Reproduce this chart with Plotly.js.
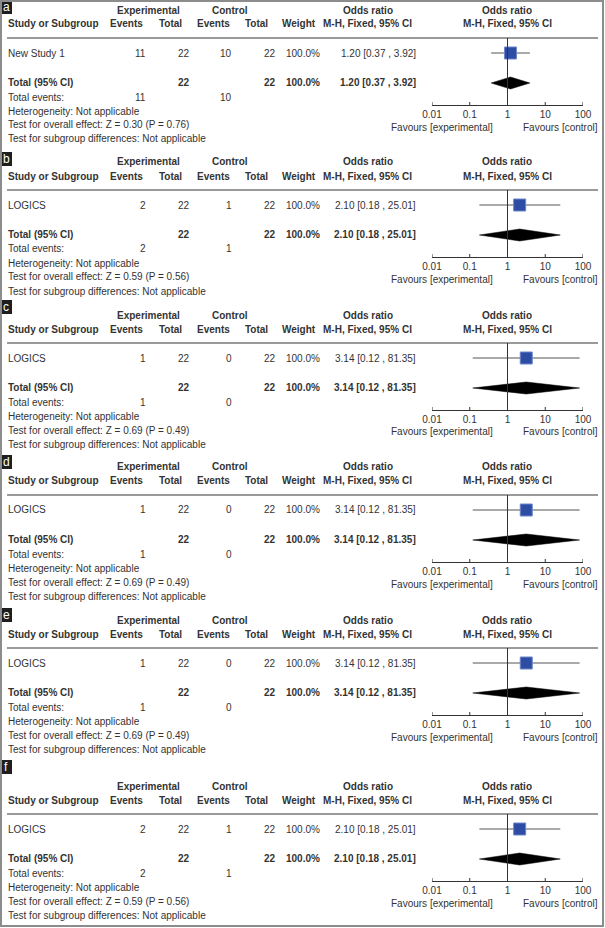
<!DOCTYPE html>
<html>
<head>
<meta charset="utf-8">
<script src="https://cdn.plot.ly/plotly-3.0.1.min.js"></script>
<style>html,body{margin:0;padding:0;background:#fff;}#chart{width:605px;height:928px;}</style>
</head>
<body>
<div id="chart"></div>
<script>
// ---- data ----
const panelLabels = ['a', 'b', 'c', 'd', 'e', 'f'];
const studyNames = ['New Study 1', 'LOGICS', 'LOGICS', 'LOGICS', 'LOGICS', 'LOGICS'];
const expEvents = [11, 2, 1, 1, 1, 2];
const expTotal = [22, 22, 22, 22, 22, 22];
const ctrlEvents = [10, 1, 0, 0, 0, 1];
const ctrlTotal = [22, 22, 22, 22, 22, 22];
const weights = [100.0, 100.0, 100.0, 100.0, 100.0, 100.0];
const oddsRatio = [1.20, 2.10, 3.14, 3.14, 3.14, 2.10];
const ciLow = [0.37, 0.18, 0.12, 0.12, 0.12, 0.18];
const ciHigh = [3.92, 25.01, 81.35, 81.35, 81.35, 25.01];
const zValues = [0.30, 0.59, 0.69, 0.69, 0.69, 0.59];
const pValues = [0.76, 0.56, 0.49, 0.49, 0.49, 0.56];
const tickValues = [0.01, 0.1, 1, 10, 100];
const tickLabels = ['0.01', '0.1', '1', '10', '100'];

// ---- layout constants ----
const W = 605, H = 928;
const offsets = [0, 152, 305, 457, 610, 776];
const labelTops = [0, 152, 300, 455, 608, 760];
const FONT = 'Liberation Sans, Arial, Helvetica, sans-serif';
const TXT = '#333';
const R = {hdr1: 10, hdr2: 24, sep: 38, study: 53, total: 82, events: 97, het: 111, overall: 125, sub: 139, axis: 105, fav: 127};
const PLOT_L = 432, PLOT_R = 583;

const px = x => x / W;
const py = y => 1 - y / H;

const annotations = [];
const shapes = [];
const traces = [];
const layout = {
  width: W, height: H,
  margin: {l: 0, r: 0, t: 0, b: 0},
  paper_bgcolor: '#fff', plot_bgcolor: 'rgba(0,0,0,0)',
  showlegend: false,
  font: {family: FONT, size: 10, color: TXT},
  annotations: annotations, shapes: shapes
};

function ann(x, y, text, anchor, opts) {
  opts = opts || {};
  annotations.push({
    xref: 'paper', yref: 'paper', x: px(x), y: py(y),
    text: opts.bold ? '<b>' + text + '</b>' : text,
    showarrow: false, xanchor: anchor, yanchor: 'middle',
    font: {family: FONT, size: opts.size || 10, color: opts.color || TXT},
    borderpad: 0
  });
}

panelLabels.forEach((lab, i) => {
  const o = offsets[i];
  const k = i === 0 ? '' : String(i + 1);
  const xa = 'xaxis' + k, ya = 'yaxis' + k;
  const xr = 'x' + k, yr = 'y' + k;

  layout[xa] = {
    type: 'log', range: [-2, 2],
    domain: [px(PLOT_L), px(PLOT_R)],
    anchor: yr,
    tickvals: tickValues, ticktext: tickLabels,
    showline: true, linecolor: '#333', linewidth: 1,
    ticks: '', ticklabelstandoff: 0,
    tickfont: {family: FONT, size: 10, color: TXT},
    showgrid: false, zeroline: false, fixedrange: true
  };
  layout[ya] = {
    domain: [py(o + R.axis), py(o + R.sep)],
    range: [o + R.axis, o + R.sep],
    anchor: xr,
    visible: false, showgrid: false, zeroline: false, fixedrange: true
  };

  // crossing tick marks
  tickValues.forEach(t => {
    shapes.push({type: 'line', xref: xr, yref: yr,
      x0: t, x1: t, y0: o + R.axis - 3, y1: o + R.axis + 3,
      line: {color: '#333', width: 1}});
  });

  // panel label box
  shapes.push({type: 'rect', xref: 'paper', yref: 'paper',
    x0: px(0), x1: px(12), y0: py(labelTops[i]), y1: py(labelTops[i] + 14),
    fillcolor: '#1e1e1e', line: {width: 0}});
  ann(6, labelTops[i] + 7, lab, 'center', {size: 12, color: '#fff'});

  // header
  ann(148, o + R.hdr1, 'Experimental', 'center', {bold: true});
  ann(230, o + R.hdr1, 'Control', 'center', {bold: true});
  ann(368, o + R.hdr1, 'Odds ratio', 'center', {bold: true});
  ann(507, o + R.hdr1, 'Odds ratio', 'center', {bold: true});
  ann(7, o + R.hdr2, 'Study or Subgroup', 'left', {bold: true});
  ann(126, o + R.hdr2, 'Events', 'center', {bold: true});
  ann(170, o + R.hdr2, 'Total', 'center', {bold: true});
  ann(213, o + R.hdr2, 'Events', 'center', {bold: true});
  ann(256, o + R.hdr2, 'Total', 'center', {bold: true});
  ann(299, o + R.hdr2, 'Weight', 'center', {bold: true});
  ann(368, o + R.hdr2, 'M-H, Fixed, 95% CI', 'center', {bold: true});
  ann(507, o + R.hdr2, 'M-H, Fixed, 95% CI', 'center', {bold: true});

  // separator
  shapes.push({type: 'line', xref: 'paper', yref: 'paper',
    x0: px(7), x1: px(598), y0: py(o + R.sep), y1: py(o + R.sep),
    line: {color: '#9a9a9a', width: 2}});

  const ciText = oddsRatio[i].toFixed(2) + ' [' + ciLow[i].toFixed(2) + ' , ' + ciHigh[i].toFixed(2) + ']';
  const wText = weights[i].toFixed(1) + '%';

  // study row
  ann(7, o + R.study, studyNames[i], 'left');
  ann(147, o + R.study, String(expEvents[i]), 'right');
  ann(191, o + R.study, String(expTotal[i]), 'right');
  ann(233, o + R.study, String(ctrlEvents[i]), 'right');
  ann(277, o + R.study, String(ctrlTotal[i]), 'right');
  ann(321, o + R.study, wText, 'right');
  ann(417, o + R.study, ciText, 'right');

  // total row
  ann(7, o + R.total, 'Total (95% CI)', 'left', {bold: true});
  ann(191, o + R.total, String(expTotal[i]), 'right', {bold: true});
  ann(277, o + R.total, String(ctrlTotal[i]), 'right', {bold: true});
  ann(321, o + R.total, wText, 'right', {bold: true});
  ann(417, o + R.total, ciText, 'right', {bold: true});

  ann(7, o + R.events, 'Total events:', 'left');
  ann(147, o + R.events, String(expEvents[i]), 'right');
  ann(233, o + R.events, String(ctrlEvents[i]), 'right');
  ann(7, o + R.het, 'Heterogeneity: Not applicable', 'left');
  ann(7, o + R.overall, 'Test for overall effect: Z = ' + zValues[i].toFixed(2) + ' (P = ' + pValues[i].toFixed(2) + ')', 'left');
  ann(7, o + R.sub, 'Test for subgroup differences: Not applicable', 'left');

  // favours
  ann(494, o + R.fav, 'Favours [experimental]', 'right');
  ann(522, o + R.fav, 'Favours [control]', 'left');

  // line of no effect
  shapes.push({type: 'line', xref: xr, yref: yr,
    x0: 1, x1: 1, y0: o + R.sep, y1: o + R.axis,
    line: {color: '#333', width: 1}});

  // CI line
  traces.push({type: 'scatter', mode: 'lines', xaxis: xr, yaxis: yr,
    x: [ciLow[i], ciHigh[i]], y: [o + R.study, o + R.study],
    line: {color: '#555', width: 1}, hoverinfo: 'skip'});
  // square
  traces.push({type: 'scatter', mode: 'markers', xaxis: xr, yaxis: yr,
    x: [oddsRatio[i]], y: [o + R.study],
    marker: {symbol: 'square', size: 12, color: '#2c4da3', line: {color: '#6d86c8', width: 1}},
    hoverinfo: 'skip'});
  // diamond
  const dy = o + R.total + 1;
  traces.push({type: 'scatter', mode: 'lines', xaxis: xr, yaxis: yr,
    x: [ciLow[i], oddsRatio[i], ciHigh[i], oddsRatio[i], ciLow[i]],
    y: [dy, dy - 6, dy, dy + 6, dy],
    fill: 'toself', fillcolor: '#000', line: {color: '#000', width: 0.5},
    hoverinfo: 'skip'});
});

// outer border
shapes.push({type: 'rect', xref: 'paper', yref: 'paper',
  x0: px(1), x1: px(603), y0: py(1), y1: py(926),
  line: {color: '#8c8c8c', width: 2}, fillcolor: 'rgba(0,0,0,0)'});

Plotly.newPlot('chart', traces, layout, {staticPlot: true, displayModeBar: false});
</script>
</body>
</html>
